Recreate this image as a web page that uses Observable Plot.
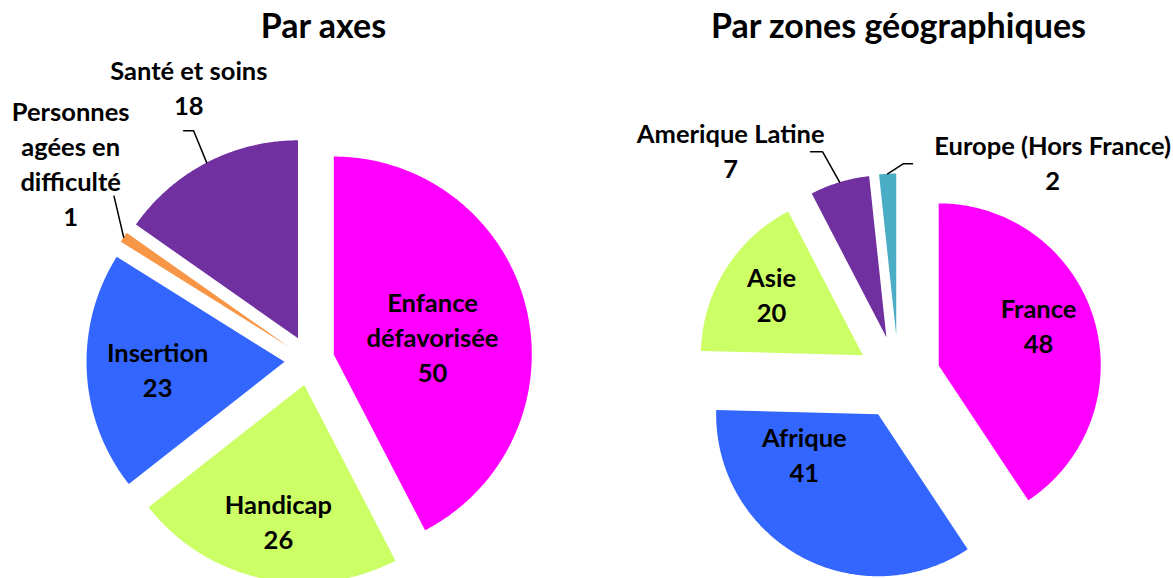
<!DOCTYPE html>
<html><head><meta charset="utf-8">
<script src="https://cdn.jsdelivr.net/npm/d3@7"></script>
<script src="https://cdn.jsdelivr.net/npm/@observablehq/plot@0.6"></script>
<style>html,body{margin:0;padding:0;background:#fff}#chart svg{display:block}</style>
</head><body><div id="chart"></div>
<script>
// ---- data ----
const titles = ["Par axes", "Par zones géographiques"];

const axesCategories = ["Enfance\ndéfavorisée", "Handicap", "Insertion", "Personnes\nagées en\ndifficulté", "Santé et soins"];
const axesValues = [50, 26, 23, 1, 18];
const axesColors = ["#FF00FF", "#CCFF66", "#3366FF", "#F79646", "#7030A0"];

const zonesCategories = ["France", "Afrique", "Asie", "Amerique Latine", "Europe (Hors France)"];
const zonesValues = [48, 41, 20, 7, 2];
const zonesColors = ["#FF00FF", "#3366FF", "#CCFF66", "#7030A0", "#4BACC6"];

// ---- layout ----
const W = 1173, H = 578;
const FONT = "Lato, 'Open Sans', sans-serif";
const labelSize = 25.5, titleSize = 34;
const pies = [
  {categories: axesCategories, values: axesValues, colors: axesColors, title: titles[0],
   cx: 309, cy: 360, r: 198, explode: 25, titleX: 323, titleY: 27,
   labelR: [0.634, 0.823, 0.768, 1.567, 1.513], labelDA: [2.2, -1.2, 0, 6.1, 3.7],
   leader: [null, null, null, {r: 1.29, da: 6.5, tail: 0}, {r: 1.30, da: 0.7, tail: -10}]},
  {categories: zonesCategories, values: zonesValues, colors: zonesColors, title: titles[1],
   cx: 898, cy: 377, r: 162, explode: 42, titleX: 898, titleY: 27,
   labelR: [0.925, 0.748, 0.940, 1.746, 1.640], labelDA: [-4.1, 22, 1.5, -19.6, 38.5],
   leader: [null, null, null, {r: 1.47, da: -1.8, tail: -12}, {r: 1.32, da: 4.4, tail: 9}]}
];

const rad = d => d * Math.PI / 180;
const polar = (cx, cy, rho, a) => ({x: cx + rho * Math.sin(a), y: cy - rho * Math.cos(a)});

const slicePts = [], labels = [], leaders = [], titleRows = [];
pies.forEach((p, pi) => {
  titleRows.push({x: p.titleX, y: p.titleY, text: p.title});
  const arcs = d3.pie().sort(null).value(v => v)(p.values);
  arcs.forEach((a, i) => {
    const key = pi + "-" + i;
    const mid = (a.startAngle + a.endAngle) / 2;
    const apex = polar(p.cx, p.cy, p.explode, mid);
    slicePts.push({key, color: p.colors[i], ...apex});
    const n = Math.max(2, Math.ceil((a.endAngle - a.startAngle) / rad(0.5)));
    for (let k = 0; k <= n; k++) {
      const ang = a.startAngle + (a.endAngle - a.startAngle) * k / n;
      slicePts.push({key, color: p.colors[i], ...polar(apex.x, apex.y, p.r, ang)});
    }
    slicePts.push({key, color: p.colors[i], ...apex});
    const lp = polar(p.cx, p.cy, p.labelR[i] * p.r, mid + rad(p.labelDA[i]));
    labels.push({...lp, text: p.categories[i] + "\n" + p.values[i]});
    const ld = p.leader[i];
    if (ld) {
      const s = polar(p.cx, p.cy, p.r + p.explode, mid);
      const e = polar(p.cx, p.cy, ld.r * p.r, mid + rad(ld.da));
      leaders.push({key, ...s}, {key, ...e});
      if (ld.tail) leaders.push({key, x: e.x + ld.tail, y: e.y});
    }
  });
});

const chart = Plot.plot({
  width: W, height: H,
  margin: 0,
  x: {axis: null, domain: [0, W]},
  y: {axis: null, domain: [0, H], range: [0, H]},
  color: {type: "identity"},
  style: {fontFamily: FONT, background: "#fff"},
  marks: [
    Plot.line(slicePts, {x: "x", y: "y", z: "key", fill: "color", stroke: "none"}),
    Plot.line(leaders, {x: "x", y: "y", z: "key", stroke: "#000", strokeWidth: 1.5}),
    Plot.text(labels, {x: "x", y: "y", text: "text", fontSize: labelSize, fontWeight: "bold",
      fill: "#000", lineHeight: 35 / labelSize, lineAnchor: "middle", textAnchor: "middle"}),
    Plot.text(titleRows, {x: "x", y: "y", text: "text", fontSize: titleSize, fontWeight: "bold",
      fill: "#000", lineAnchor: "middle", textAnchor: "middle"})
  ]
});
document.getElementById("chart").append(chart);
</script>
</body></html>
